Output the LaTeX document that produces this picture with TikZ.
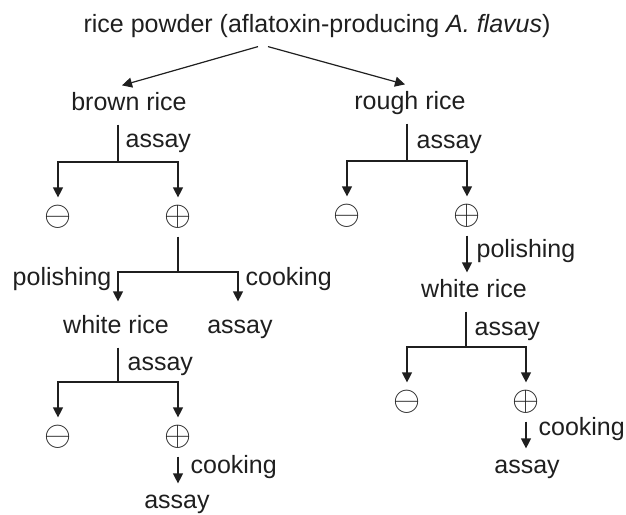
\documentclass[tikz,border=0pt]{standalone}
\usepackage{fontspec}
\setmainfont{Liberation Sans}
\usetikzlibrary{arrows.meta}
\tikzset{
	lbl/.style={inner sep=0pt, text height=24pt, text depth=14pt, anchor=base},
	sign/.style={inner sep=0pt, minimum height=38pt},
	edge/.style={inner sep=0pt},
	arr/.style={-{Triangle[length=10pt,width=10pt]}}
}
\newcommand\negsign{\scalebox{1.4}{$\ominus$}}
\newcommand\possign{\scalebox{1.4}{$\oplus$}}
\begin{document}
\begin{tikzpicture}[x=1pt, y=-1pt, font=\fontsize{25}{30}\selectfont, color=black!88, line width=1.2pt]
	\useasboundingbox (0,0) rectangle (626,514);
	\node[lbl] (title) at (317,32) {rice powder (aflatoxin-producing \textit{A. flavus})};
	\node[lbl] (brown) at (129,110) {brown rice};
	\node[lbl] (rough) at (410,109) {rough rice};
	\node[sign] (m1) at (58,217) {\negsign};
	\node[sign] (p1) at (178,217) {\possign};
	\node[sign] (m2) at (347,216) {\negsign};
	\node[sign] (p2) at (467,216) {\possign};
	\node[lbl] (white1) at (116,333) {white rice};
	\node[lbl] (assay1) at (240,333) {assay};
	\node[lbl] (white2) at (474,297) {white rice};
	\node[sign] (m3) at (58,437) {\negsign};
	\node[sign] (p3) at (178,437) {\possign};
	\node[sign] (m4) at (407,402) {\negsign};
	\node[sign] (p4) at (526,402) {\possign};
	\node[lbl] (assay2) at (177,508) {assay};
	\node[lbl] (assay3) at (527,473) {assay};
	\coordinate (f1) at (118,162);
	\coordinate (f2) at (178,272);
	\coordinate (f3) at (118,382);
	\coordinate (f4) at (407,161);
	\coordinate (f5) at (466,347);
	\draw[arr] ([xshift=-59pt]title.south) -- ([xshift=-7pt]brown.north);
	\draw[arr] ([xshift=-49pt]title.south) -- ([xshift=-5pt]rough.north);
	\draw (f1 |- brown.south) -- (f1);
	\draw[arr] (f1) -| (m1.north);
	\draw[arr] (f1) -| (p1.north);
	\node[edge, anchor=base west] at (125,147) {assay};
	\draw (p1.south) -- (f2);
	\draw[arr, shorten >=7pt] (f2) -| ([xshift=2pt]white1.north);
	\draw[arr, shorten >=7pt] (f2) -| ([xshift=-2pt]assay1.north);
	\node[edge, anchor=base east] at (112,285) {polishing};
	\node[edge, anchor=base west] at (245,285) {cooking};
	\draw (f3 |- white1.south) -- (f3);
	\draw[arr] (f3) -| (m3.north);
	\draw[arr] (f3) -| (p3.north);
	\node[edge, anchor=base west] at (127,370) {assay};
	\draw[arr] (p3.south) -- (p3 |- assay2.north);
	\node[edge, anchor=base west] at (190,473) {cooking};
	\draw (f4 |- rough.south) -- (f4);
	\draw[arr] (f4) -| (m2.north);
	\draw[arr] (f4) -| (p2.north);
	\node[edge, anchor=base west] at (416,148) {assay};
	\draw[arr] (p2.south) -- (p2 |- white2.north);
	\node[edge, anchor=base west] at (476,257) {polishing};
	\draw (f5 |- white2.south) -- (f5);
	\draw[arr] (f5) -| (m4.north);
	\draw[arr] (f5) -| (p4.north);
	\node[edge, anchor=base west] at (474,335) {assay};
	\draw[arr] (p4.south) -- (p4 |- assay3.north);
	\node[edge, anchor=base west] at (538,435) {cooking};
\end{tikzpicture}
\end{document}
